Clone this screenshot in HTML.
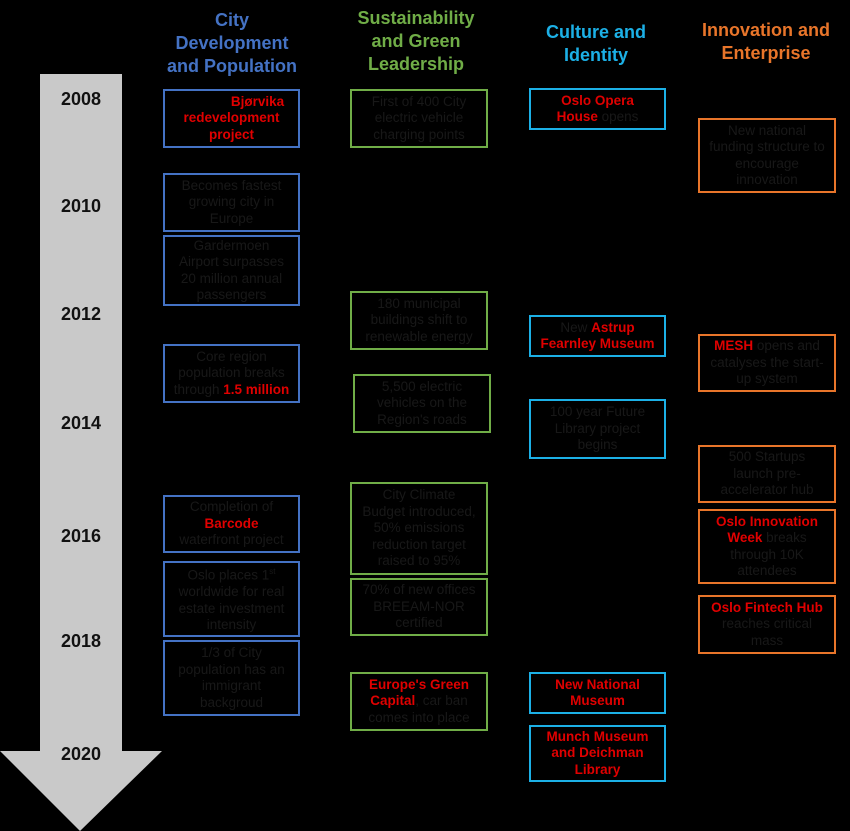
<!DOCTYPE html>
<html><head><meta charset="utf-8"><style>
body{margin:0;width:850px;height:831px;background:#000;position:relative;overflow:hidden;font-family:"Liberation Sans",sans-serif}
.h{position:absolute;font-weight:bold;font-size:18px;line-height:23px;text-align:center}
.y{position:absolute;left:40px;width:82px;text-align:center;font-weight:bold;font-size:18px;color:#111}
.b{position:absolute;box-sizing:border-box;border:2px solid;display:flex;align-items:center;justify-content:center;text-align:center;font-size:13.5px;line-height:16.5px;color:#181818;padding:0 12px}
.bl{left:163px;width:137px;border-color:#4472c4}
.gr{left:350px;width:138px;border-color:#70ad47}
.cy{left:529px;width:137px;border-color:#1cb0e6}
.or{left:698px;width:138px;border-color:#e8752a}
.r{color:#e00000;font-weight:bold}
</style></head><body>
<svg style="position:absolute;left:0;top:0" width="850" height="831"><polygon points="40,74 122,74 122,751 162,751 80,831 0,751 40,751" fill="#c9c9c9"/></svg>
<div class="y" style="top:89px">2008</div>
<div class="y" style="top:196px">2010</div>
<div class="y" style="top:304px">2012</div>
<div class="y" style="top:413px">2014</div>
<div class="y" style="top:526px">2016</div>
<div class="y" style="top:631px">2018</div>
<div class="y" style="top:744px">2020</div>

<div class="h" style="left:150px;width:164px;top:9px;color:#4472c4">City<br>Development<br>and Population</div>
<div class="h" style="left:334px;width:164px;top:7px;color:#70ad47">Sustainability<br>and Green<br>Leadership</div>
<div class="h" style="left:514px;width:164px;top:21px;color:#1cb0e6">Culture and<br>Identity</div>
<div class="h" style="left:684px;width:164px;top:19px;color:#e8752a">Innovation and<br>Enterprise</div>

<div class="b bl" style="top:89px;height:59px;padding:0 8px"><span class="r"><span style="padding-left:52px">Bjørvika</span><br>redevelopment<br>project</span></div>
<div class="b bl" style="top:173px;height:59px">Becomes fastest growing city in Europe</div>
<div class="b bl" style="top:235px;height:71px">Gardermoen Airport surpasses 20 million annual passengers</div>
<div class="b bl" style="top:344px;height:59px;padding:0 6px"><span>Core region<br>population breaks through <span class="r">1.5 million</span></span></div>
<div class="b bl" style="top:495px;height:58px"><span>Completion of<br><span class="r">Barcode</span><br>waterfront project</span></div>
<div class="b bl" style="top:561px;height:76px;padding:0 8px"><span>Oslo places 1<sup style="font-size:8px">st</sup><br>worldwide for real estate investment intensity</span></div>
<div class="b bl" style="top:640px;height:76px;padding:0 8px"><span>1/3 of City<br>population has an immigrant backgroud</span></div>

<div class="b gr" style="top:89px;height:59px">First of 400 City electric vehicle charging points</div>
<div class="b gr" style="top:291px;height:59px;padding:0 8px"><span>180 municipal<br>buildings shift to renewable energy</span></div>
<div class="b gr" style="top:374px;height:59px;left:353px">5,500 electric vehicles on the Region's roads</div>
<div class="b gr" style="top:482px;height:93px;padding:0 8px"><span>City Climate<br>Budget introduced, 50% emissions reduction target raised to 95%</span></div>
<div class="b gr" style="top:578px;height:58px;padding:0 6px"><span>70% of new offices<br>BREEAM-NOR<br>certified</span></div>
<div class="b gr" style="top:672px;height:59px;padding:0 6px"><span><span class="r">Europe's Green<br>Capital</span>, car ban comes into place</span></div>

<div class="b cy" style="top:88px;height:42px"><span><span class="r">Oslo Opera<br>House</span> opens</span></div>
<div class="b cy" style="top:315px;height:42px;padding:0 6px"><span>New <span class="r">Astrup<br>Fearnley Museum</span></span></div>
<div class="b cy" style="top:399px;height:60px">100 year Future Library project begins</div>
<div class="b cy" style="top:672px;height:42px"><span class="r">New National Museum</span></div>
<div class="b cy" style="top:725px;height:57px"><span class="r">Munch Museum and Deichman Library</span></div>

<div class="b or" style="top:118px;height:75px;padding:0 6px"><span>New national<br>funding structure to encourage innovation</span></div>
<div class="b or" style="top:334px;height:58px;padding:0 8px"><span><span class="r">MESH</span> opens and catalyses the start-up system</span></div>
<div class="b or" style="top:445px;height:58px"><span>500 Startups<br>launch pre-<br>accelerator hub</span></div>
<div class="b or" style="top:509px;height:75px;padding:0 8px"><span><span class="r">Oslo Innovation<br>Week</span> breaks through 10K attendees</span></div>
<div class="b or" style="top:595px;height:59px;padding:0 6px"><span><span class="r">Oslo Fintech Hub</span><br>reaches critical mass</span></div>
</body></html>
